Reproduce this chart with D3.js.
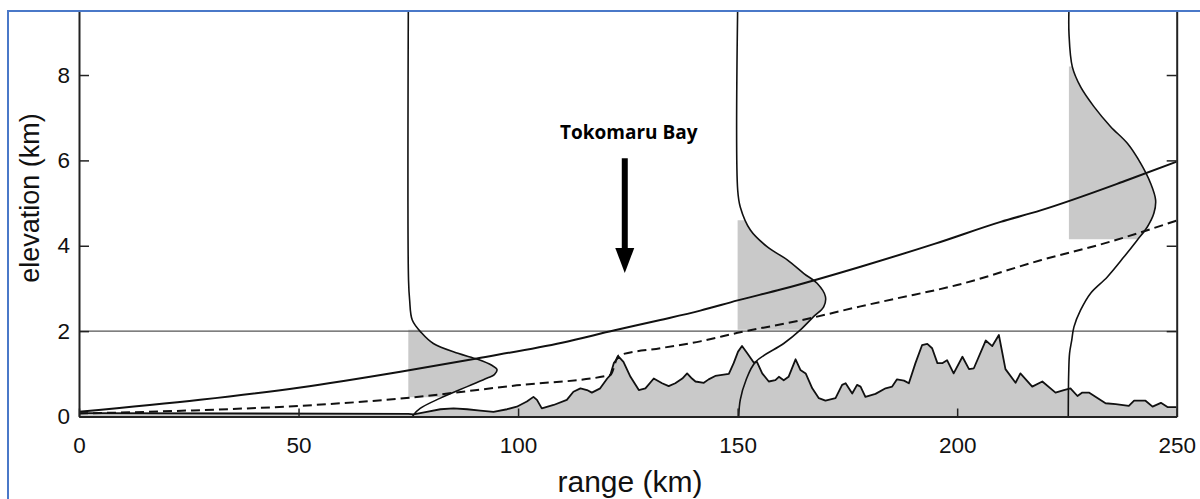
<!DOCTYPE html>
<html><head><meta charset="utf-8">
<script src="https://cdn.jsdelivr.net/npm/d3@7/dist/d3.min.js"></script>
<style>body{margin:0;background:#fff;overflow:hidden} svg{display:block}</style>
</head><body>
<svg id="chart" width="1200" height="499"></svg>
<script>
// ---- data (range km, elevation km) ----
const xTicks = [0, 50, 100, 150, 200, 250];
const yTicks = [0, 2, 4, 6, 8];
const xLabel = "range (km)";
const yLabel = "elevation (km)";

const terrain = [[0,0.08],[40,0.07],[75,0.06],[76.2,0.05],[79.2,0.11],[82.3,0.17],[85.3,0.19],[88.4,0.17],[91.4,0.14],[94.4,0.11],[97.5,0.17],[99.7,0.23],[102.0,0.35],[103.5,0.46],[104.3,0.39],[105.4,0.19],[108.1,0.27],[111.1,0.39],[112.6,0.58],[114.2,0.66],[115.7,0.62],[116.8,0.56],[118.7,0.66],[120.3,0.89],[121.0,0.97],[121.8,1.25],[122.9,1.40],[124.0,1.28],[125.6,0.93],[127.5,0.62],[129.0,0.66],[130.9,0.89],[132.8,0.78],[134.3,0.71],[135.8,0.78],[137.4,0.89],[138.5,1.01],[139.6,0.89],[140.4,0.82],[142.3,0.79],[143.4,0.87],[144.9,0.95],[148.0,1.00],[149.1,1.25],[150.1,1.52],[151.0,1.65],[152.2,1.48],[153.7,1.26],[154.4,1.28],[155.6,1.01],[157.1,0.82],[158.6,0.85],[159.4,0.93],[160.5,0.85],[161.6,0.93],[163.2,1.34],[164.3,1.09],[165.5,1.01],[167.0,0.66],[168.5,0.43],[170.0,0.37],[172.3,0.43],[173.8,0.74],[174.6,0.78],[176.1,0.54],[177.2,0.74],[178.0,0.70],[179.1,0.46],[181.4,0.53],[183.7,0.66],[185.2,0.70],[186.3,0.87],[187.9,0.84],[189.0,0.78],[190.5,1.25],[192.0,1.67],[193.2,1.70],[194.3,1.60],[195.5,1.25],[196.6,1.25],[197.7,1.32],[199.2,1.01],[201.2,1.40],[202.7,1.11],[203.8,1.13],[206.5,1.78],[208.0,1.65],[209.5,1.91],[211.0,1.11],[213.3,0.79],[214.4,1.01],[217.1,0.70],[219.4,0.82],[222.4,0.56],[224.3,0.62],[225.8,0.66],[227.4,0.48],[228.5,0.56],[230.0,0.56],[233.8,0.31],[236.1,0.29],[239.1,0.25],[240.3,0.37],[242.9,0.37],[244.5,0.23],[246.4,0.32],[247.9,0.22],[250,0.22]];

const raySolid = [[0,0.11],[27.6,0.39],[50.4,0.68],[73.2,1.05],[90.6,1.36],[110,1.73],[122,2.02],[132.4,2.26],[141.5,2.48],[150,2.72],[160,2.98],[178,3.51],[195,4.05],[209.9,4.56],[219,4.83],[238.8,5.54],[250,5.97]];

const rayDashed = [[0,0.07],[25,0.14],[50.4,0.25],[73.2,0.42],[99.7,0.73],[121.0,0.97],[122.9,1.43],[132.4,1.60],[141.5,1.76],[150,1.96],[164.7,2.26],[178,2.58],[185.5,2.75],[200,3.08],[219,3.66],[235,4.1],[250,4.59]];

// vertical profiles: [elevation km, horizontal offset km from base]
const profileBases = [75, 150, 225];
const profile1 = [[9.5,0],[3.2,0.05],[2.73,0.3],[2.26,0.9],[1.96,3.0],[1.71,5.7],[1.48,11.3],[1.34,15.8],[1.20,19.0],[1.10,20.2],[0.98,19.6],[0.90,18.0],[0.70,13.4],[0.43,7.3],[0.19,2.7],[0.04,1.2],[0,1.0]];
const profile2 = [[9.5,0],[5.3,0.02],[4.91,0.6],[4.37,2.9],[3.98,6.7],[3.67,11.3],[3.35,15.1],[3.12,18.1],[2.81,20.0],[2.57,19.6],[2.34,17.3],[2.03,14.3],[1.71,10.5],[1.28,4.1],[0.85,1.9],[0.39,0.6],[0,0.25]];
const profile3 = [[9.5,0.45],[8.97,0.47],[8.19,1.23],[7.72,3.12],[7.26,6.15],[6.79,9.96],[6.40,13.76],[5.93,16.8],[5.46,19.07],[5.07,20.2],[4.76,19.8],[4.44,18.3],[4.13,16.0],[3.74,13.0],[3.27,9.2],[2.89,5.4],[2.49,3.1],[2.10,1.6],[1.79,1.1],[1.48,0.6],[1.0,0.4],[0,0.3]];
const profileBandLow = [0.45, 2.03, 4.15];
const profileBandHigh = [2.03, 4.6, 8.2];

const refLineElev = [2];

const annotText = ["Tokomaru Bay"];
const annotX = [124.3];      // km
const annotTextElev = [6.49];
const annotArrowTop = [6.05];
const annotArrowHeadBase = [3.95];
const annotArrowTip = [3.36];

// ---- layout ----
const svg = d3.select("#chart");
const mLeft = 79, mRight = 1176.7, mTop = 11, mBottom = 416.5;
const x = d3.scaleLinear().domain([0, 250]).range([mLeft, mRight]);
const y = d3.scaleLinear().domain([0, 9.5]).range([mBottom, mTop]);
const grayFill = "#c9c9c9";

const defs = svg.append("defs");
defs.append("clipPath").attr("id", "plotclip")
  .append("rect").attr("x", mLeft).attr("y", mTop).attr("width", mRight - mLeft).attr("height", mBottom - mTop);

const plot = svg.append("g").attr("clip-path", "url(#plotclip)");

// profile gray fills (clipped to band)
const profiles = [profile1, profile2, profile3];
profiles.forEach((p, i) => {
  const base = profileBases[i];
  const cid = "band" + i;
  defs.append("clipPath").attr("id", cid).append("rect")
    .attr("x", x(base) - 1).attr("width", x(base + 30) - x(base))
    .attr("y", y(profileBandHigh[i])).attr("height", y(profileBandLow[i]) - y(profileBandHigh[i]));
  const area = d3.area()
    .y(d => y(d[0]))
    .x0(x(base + p[0][1]))
    .x1(d => x(base + d[1]))
    .curve(d3.curveCatmullRom);
  plot.append("g").attr("clip-path", `url(#${cid})`)
    .append("path").datum(p).attr("d", area).attr("fill", grayFill);
});

// terrain fill
plot.append("path").datum(terrain)
  .attr("d", d3.area().x(d => x(d[0])).y0(y(0)).y1(d => y(d[1])))
  .attr("fill", grayFill);

// reference 2 km line
refLineElev.forEach(e => {
  plot.append("line").attr("x1", x(0)).attr("x2", x(250)).attr("y1", y(e)).attr("y2", y(e))
    .attr("stroke", "#555").attr("stroke-width", 1.2);
});

// terrain line
plot.append("path").datum(terrain)
  .attr("d", d3.line().x(d => x(d[0])).y(d => y(d[1])))
  .attr("fill", "none").attr("stroke", "#111").attr("stroke-width", 1.8).attr("stroke-linejoin", "round");

// profile lines
profiles.forEach((p, i) => {
  const base = profileBases[i];
  plot.append("path").datum(p)
    .attr("d", d3.line().y(d => y(d[0])).x(d => x(base + d[1])).curve(d3.curveCatmullRom))
    .attr("fill", "none").attr("stroke", "#111").attr("stroke-width", 1.6);
});

// rays
plot.append("path").datum(raySolid)
  .attr("d", d3.line().x(d => x(d[0])).y(d => y(d[1])).curve(d3.curveMonotoneX))
  .attr("fill", "none").attr("stroke", "#111").attr("stroke-width", 2);
plot.append("path").datum(rayDashed)
  .attr("d", d3.line().x(d => x(d[0])).y(d => y(d[1])).curve(d3.curveMonotoneX))
  .attr("fill", "none").attr("stroke", "#111").attr("stroke-width", 2).attr("stroke-dasharray", "9,5");

// axes
const fontFam = "'Liberation Sans', Arial, Helvetica, sans-serif";
const gl = svg.append("g").attr("transform", `translate(${mLeft},0)`)
  .call(d3.axisLeft(y).tickValues(yTicks).tickSize(-10).tickSizeOuter(0).tickPadding(9).tickFormat(d3.format("d")));
const gr = svg.append("g").attr("transform", `translate(${mRight},0)`)
  .call(d3.axisRight(y).tickValues(yTicks).tickSize(-10).tickSizeOuter(0).tickFormat(""));
const gb = svg.append("g").attr("transform", `translate(0,${mBottom})`)
  .call(d3.axisBottom(x).tickValues(xTicks).tickSize(-8).tickSizeOuter(0).tickPadding(21).tickFormat(d3.format("d")));
[gl, gr, gb].forEach(g => {
  g.selectAll(".domain").attr("stroke", "#222").attr("stroke-width", 2);
  g.selectAll(".tick line").attr("stroke", "#222").attr("stroke-width", 1.5);
  g.selectAll("text").attr("font-family", fontFam).attr("font-size", 22.5).attr("fill", "#111");
});

// axis labels
svg.append("text").attr("x", 630).attr("y", 492).attr("text-anchor", "middle")
  .attr("font-family", fontFam).attr("font-size", 30).attr("fill", "#111").text(xLabel);
svg.append("text").attr("transform", "translate(39,198) rotate(-90)").attr("text-anchor", "middle")
  .attr("font-family", fontFam).attr("font-size", 27).attr("fill", "#111").text(yLabel);

// annotation
annotText.forEach((t, i) => {
  const ax = x(annotX[i]);
  svg.append("text").attr("x", ax + 4).attr("y", y(annotTextElev[i]))
    .attr("text-anchor", "middle").attr("font-family", "'Open Sans', sans-serif").attr("font-weight", 700)
    .attr("font-size", 19).attr("fill", "#000").text(t);
  svg.append("line").attr("x1", ax).attr("x2", ax).attr("y1", y(annotArrowTop[i])).attr("y2", y(annotArrowHeadBase[i]) + 2)
    .attr("stroke", "#000").attr("stroke-width", 6);
  svg.append("path")
    .attr("d", `M${ax - 9.5},${y(annotArrowHeadBase[i])} L${ax + 9.5},${y(annotArrowHeadBase[i])} L${ax},${y(annotArrowTip[i])} Z`)
    .attr("fill", "#000");
});

// outer border (picture frame): only top and left edges fall inside the picture
svg.append("rect").attr("x", 8).attr("y", 11).attr("width", 1400).attr("height", 700)
  .attr("fill", "none").attr("stroke", "#4a78c8").attr("stroke-width", 2);
</script>
</body></html>
